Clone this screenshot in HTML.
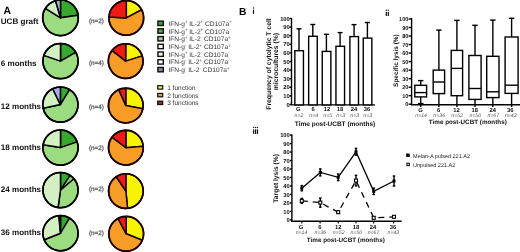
<!DOCTYPE html>
<html><head><meta charset="utf-8"><style>
html,body{margin:0;padding:0;background:#fff;}
body{width:520px;height:252px;overflow:hidden;}
svg{display:block;font-family:"Liberation Sans", sans-serif;text-rendering:geometricPrecision;filter:blur(0.25px);}
</style></head><body>
<svg width="520" height="252" viewBox="0 0 520 252">
<rect width="520" height="252" fill="#fff"/>
<path d="M60.50,17.80 L60.50,0.00 A17.8,17.8 0 0 1 78.13,15.32 Z" fill="#36a82e" stroke="#000" stroke-width="1.5" stroke-linejoin="round"/><path d="M60.50,17.80 L78.13,15.32 A17.8,17.8 0 1 1 45.40,8.37 Z" fill="#9bdc80" stroke="#000" stroke-width="1.5" stroke-linejoin="round"/><path d="M60.50,17.80 L45.40,8.37 A17.8,17.8 0 0 1 55.59,0.69 Z" fill="#d3f0c2" stroke="#000" stroke-width="1.5" stroke-linejoin="round"/><path d="M60.50,17.80 L55.59,0.69 A17.8,17.8 0 0 1 60.50,0.00 Z" fill="#a2b8d4" stroke="#000" stroke-width="1.5" stroke-linejoin="round"/><circle cx="60.5" cy="17.8" r="17.8" fill="none" stroke="#000" stroke-width="1.7"/><path d="M60.50,61.10 L60.50,43.50 A17.6,17.6 0 0 1 75.74,52.30 Z" fill="#36a82e" stroke="#000" stroke-width="1.5" stroke-linejoin="round"/><path d="M60.50,61.10 L75.74,52.30 A17.6,17.6 0 1 1 43.86,55.37 Z" fill="#9bdc80" stroke="#000" stroke-width="1.5" stroke-linejoin="round"/><path d="M60.50,61.10 L43.86,55.37 A17.6,17.6 0 0 1 60.50,43.50 Z" fill="#d3f0c2" stroke="#000" stroke-width="1.5" stroke-linejoin="round"/><circle cx="60.5" cy="61.1" r="17.6" fill="none" stroke="#000" stroke-width="1.7"/><path d="M60.40,104.60 L60.40,87.00 A17.6,17.6 0 0 1 69.60,89.59 Z" fill="#36a82e" stroke="#000" stroke-width="1.5" stroke-linejoin="round"/><path d="M60.40,104.60 L69.60,89.59 A17.6,17.6 0 1 1 43.18,108.26 Z" fill="#9bdc80" stroke="#000" stroke-width="1.5" stroke-linejoin="round"/><path d="M60.40,104.60 L43.18,108.26 A17.6,17.6 0 0 1 52.68,88.78 Z" fill="#d3f0c2" stroke="#000" stroke-width="1.5" stroke-linejoin="round"/><path d="M60.40,104.60 L52.68,88.78 A17.6,17.6 0 0 1 60.40,87.00 Z" fill="#a4ade6" stroke="#000" stroke-width="1.5" stroke-linejoin="round"/><circle cx="60.4" cy="104.6" r="17.6" fill="none" stroke="#000" stroke-width="1.7"/><path d="M60.50,147.60 L60.50,130.00 A17.6,17.6 0 0 1 77.14,141.87 Z" fill="#36a82e" stroke="#000" stroke-width="1.5" stroke-linejoin="round"/><path d="M60.50,147.60 L77.14,141.87 A17.6,17.6 0 1 1 43.12,144.85 Z" fill="#9bdc80" stroke="#000" stroke-width="1.5" stroke-linejoin="round"/><path d="M60.50,147.60 L43.12,144.85 A17.6,17.6 0 0 1 60.50,130.00 Z" fill="#d3f0c2" stroke="#000" stroke-width="1.5" stroke-linejoin="round"/><circle cx="60.5" cy="147.6" r="17.6" fill="none" stroke="#000" stroke-width="1.7"/><path d="M60.50,190.10 L60.50,172.50 A17.6,17.6 0 0 1 70.09,175.34 Z" fill="#36a82e" stroke="#000" stroke-width="1.5" stroke-linejoin="round"/><path d="M60.50,190.10 L70.09,175.34 A17.6,17.6 0 0 1 74.18,179.02 Z" fill="#8fd07c" stroke="#000" stroke-width="1.5" stroke-linejoin="round"/><path d="M60.50,190.10 L73.98,178.79 A17.6,17.6 0 0 1 58.05,207.53 Z" fill="#9bdc80" stroke="#000" stroke-width="1.5" stroke-linejoin="round"/><path d="M60.50,190.10 L58.05,207.53 A17.6,17.6 0 0 1 60.50,172.50 Z" fill="#d3f0c2" stroke="#000" stroke-width="1.5" stroke-linejoin="round"/><circle cx="60.5" cy="190.1" r="17.6" fill="none" stroke="#000" stroke-width="1.7"/><path d="M60.50,233.20 L60.50,215.60 A17.6,17.6 0 0 1 69.56,218.11 Z" fill="#36a82e" stroke="#000" stroke-width="1.5" stroke-linejoin="round"/><path d="M60.50,233.20 L69.56,218.11 A17.6,17.6 0 1 1 44.18,239.79 Z" fill="#9bdc80" stroke="#000" stroke-width="1.5" stroke-linejoin="round"/><path d="M60.50,233.20 L44.18,239.79 A17.6,17.6 0 0 1 58.66,215.70 Z" fill="#d3f0c2" stroke="#000" stroke-width="1.5" stroke-linejoin="round"/><path d="M60.50,233.20 L59.27,215.64 A17.6,17.6 0 0 1 60.50,215.60 Z" fill="#222" stroke="#000" stroke-width="1.5" stroke-linejoin="round"/><circle cx="60.5" cy="233.2" r="17.6" fill="none" stroke="#000" stroke-width="1.7"/><path d="M126.30,17.90 L126.30,0.55 A17.35,17.35 0 0 1 141.62,9.75 Z" fill="#f7f400" stroke="#1a0000" stroke-width="1.5" stroke-linejoin="round"/><path d="M126.30,17.90 L141.62,9.75 A17.35,17.35 0 1 1 108.97,16.99 Z" fill="#f89c28" stroke="#1a0000" stroke-width="1.5" stroke-linejoin="round"/><path d="M126.30,17.90 L108.97,16.99 A17.35,17.35 0 0 1 126.30,0.55 Z" fill="#f01a14" stroke="#1a0000" stroke-width="1.5" stroke-linejoin="round"/><circle cx="126.3" cy="17.9" r="17.35" fill="none" stroke="#1a0000" stroke-width="1.7"/><path d="M125.70,61.10 L125.70,43.75 A17.35,17.35 0 0 1 142.25,55.88 Z" fill="#f7f400" stroke="#1a0000" stroke-width="1.5" stroke-linejoin="round"/><path d="M125.70,61.10 L142.25,55.88 A17.35,17.35 0 1 1 112.03,50.42 Z" fill="#f89c28" stroke="#1a0000" stroke-width="1.5" stroke-linejoin="round"/><path d="M125.70,61.10 L112.03,50.42 A17.35,17.35 0 0 1 125.70,43.75 Z" fill="#f01a14" stroke="#1a0000" stroke-width="1.5" stroke-linejoin="round"/><circle cx="125.7" cy="61.1" r="17.35" fill="none" stroke="#1a0000" stroke-width="1.7"/><path d="M125.80,105.50 L125.80,88.15 A17.35,17.35 0 0 1 142.83,108.81 Z" fill="#f7f400" stroke="#1a0000" stroke-width="1.5" stroke-linejoin="round"/><path d="M125.80,105.50 L142.83,108.81 A17.35,17.35 0 1 1 118.74,89.65 Z" fill="#f89c28" stroke="#1a0000" stroke-width="1.5" stroke-linejoin="round"/><path d="M125.80,105.50 L118.74,89.65 A17.35,17.35 0 0 1 125.80,88.15 Z" fill="#f01a14" stroke="#1a0000" stroke-width="1.5" stroke-linejoin="round"/><circle cx="125.8" cy="105.5" r="17.35" fill="none" stroke="#1a0000" stroke-width="1.7"/><path d="M125.90,147.70 L125.90,130.35 A17.35,17.35 0 0 1 143.20,146.34 Z" fill="#f7f400" stroke="#1a0000" stroke-width="1.5" stroke-linejoin="round"/><path d="M125.90,147.70 L143.20,146.34 A17.35,17.35 0 1 1 112.04,137.26 Z" fill="#f89c28" stroke="#1a0000" stroke-width="1.5" stroke-linejoin="round"/><path d="M125.90,147.70 L112.04,137.26 A17.35,17.35 0 0 1 125.90,130.35 Z" fill="#f01a14" stroke="#1a0000" stroke-width="1.5" stroke-linejoin="round"/><circle cx="125.9" cy="147.7" r="17.35" fill="none" stroke="#1a0000" stroke-width="1.7"/><path d="M125.90,191.10 L125.90,173.75 A17.35,17.35 0 0 1 127.56,208.37 Z" fill="#f7f400" stroke="#1a0000" stroke-width="1.5" stroke-linejoin="round"/><path d="M125.90,191.10 L127.56,208.37 A17.35,17.35 0 0 1 116.20,176.72 Z" fill="#f89c28" stroke="#1a0000" stroke-width="1.5" stroke-linejoin="round"/><path d="M125.90,191.10 L116.20,176.72 A17.35,17.35 0 0 1 125.90,173.75 Z" fill="#f01a14" stroke="#1a0000" stroke-width="1.5" stroke-linejoin="round"/><circle cx="125.9" cy="191.1" r="17.35" fill="none" stroke="#1a0000" stroke-width="1.7"/><path d="M126.20,233.80 L126.20,216.45 A17.35,17.35 0 0 1 142.29,240.30 Z" fill="#f7f400" stroke="#1a0000" stroke-width="1.5" stroke-linejoin="round"/><path d="M126.20,233.80 L142.29,240.30 A17.35,17.35 0 1 1 118.05,218.48 Z" fill="#f89c28" stroke="#1a0000" stroke-width="1.5" stroke-linejoin="round"/><path d="M126.20,233.80 L118.05,218.48 A17.35,17.35 0 0 1 126.20,216.45 Z" fill="#f01a14" stroke="#1a0000" stroke-width="1.5" stroke-linejoin="round"/><circle cx="126.2" cy="233.8" r="17.35" fill="none" stroke="#1a0000" stroke-width="1.7"/><text x="3.6" y="14.2" font-size="10.4" font-weight="bold" text-anchor="start" fill="#000"  >A</text><text x="0.8" y="24.0" font-size="8.05" font-weight="bold" text-anchor="start" fill="#111"  >UCB graft</text><text x="0.8" y="66.30000000000001" font-size="8.05" font-weight="bold" text-anchor="start" fill="#111"  >6 months</text><text x="0.8" y="109.30000000000001" font-size="8.05" font-weight="bold" text-anchor="start" fill="#111"  >12 months</text><text x="0.8" y="150.1" font-size="8.05" font-weight="bold" text-anchor="start" fill="#111"  >18 months</text><text x="0.8" y="191.8" font-size="8.05" font-weight="bold" text-anchor="start" fill="#111"  >24 months</text><text x="0.8" y="235.3" font-size="8.05" font-weight="bold" text-anchor="start" fill="#111"  >36 months</text><text x="89" y="22.5" font-size="6.3" font-weight="normal" text-anchor="start" fill="#555"  stroke="#555" stroke-width="0.25">(n=2)</text><text x="89" y="64.5" font-size="6.3" font-weight="normal" text-anchor="start" fill="#555"  stroke="#555" stroke-width="0.25">(n=4)</text><text x="89" y="108.8" font-size="6.3" font-weight="normal" text-anchor="start" fill="#555"  stroke="#555" stroke-width="0.25">(n=4)</text><text x="89" y="149.8" font-size="6.3" font-weight="normal" text-anchor="start" fill="#555"  stroke="#555" stroke-width="0.25">(n=2)</text><text x="89" y="191.3" font-size="6.3" font-weight="normal" text-anchor="start" fill="#555"  stroke="#555" stroke-width="0.25">(n=2)</text><text x="89" y="235.3" font-size="6.3" font-weight="normal" text-anchor="start" fill="#555"  stroke="#555" stroke-width="0.25">(n=2)</text><rect x="157.9" y="21.10" width="5.4" height="4.4" fill="#36a82e" stroke="#111" stroke-width="1.4"/><text x="168.4" y="25.80" font-size="6.6" fill="#333">IFN-g<tspan font-size="4.3" dy="-2.4">+</tspan><tspan dy="2.4"> </tspan>IL-2<tspan font-size="4.3" dy="-2.4">+</tspan><tspan dy="2.4"> </tspan>CD107a<tspan font-size="4.3" dy="-2.4">+</tspan></text><rect x="157.9" y="28.82" width="5.4" height="4.4" fill="#52b04e" stroke="#111" stroke-width="1.4"/><text x="168.4" y="33.52" font-size="6.6" fill="#333">IFN-g<tspan font-size="4.3" dy="-2.4">+</tspan><tspan dy="2.4"> </tspan>IL-2<tspan font-size="4.3" dy="-2.4">+</tspan><tspan dy="2.4"> </tspan>CD107a<tspan font-size="4.3" dy="-2.4">-</tspan></text><rect x="157.9" y="36.54" width="5.4" height="4.4" fill="#9cd08e" stroke="#111" stroke-width="1.4"/><text x="168.4" y="41.24" font-size="6.6" fill="#333">IFN-g<tspan font-size="4.3" dy="-2.4">+</tspan><tspan dy="2.4"> </tspan>IL-2<tspan font-size="4.3" dy="-2.4">-</tspan><tspan dy="2.4"> </tspan>CD107a<tspan font-size="4.3" dy="-2.4">+</tspan></text><rect x="157.9" y="44.26" width="5.4" height="4.4" fill="#ffffff" stroke="#111" stroke-width="1.4"/><text x="168.4" y="48.96" font-size="6.6" fill="#333">IFN-g<tspan font-size="4.3" dy="-2.4">-</tspan><tspan dy="2.4"> </tspan>IL-2<tspan font-size="4.3" dy="-2.4">+</tspan><tspan dy="2.4"> </tspan>CD107a<tspan font-size="4.3" dy="-2.4">+</tspan></text><rect x="157.9" y="51.98" width="5.4" height="4.4" fill="#eef8d8" stroke="#111" stroke-width="1.4"/><text x="168.4" y="56.68" font-size="6.6" fill="#333">IFN-g<tspan font-size="4.3" dy="-2.4">+</tspan><tspan dy="2.4"> </tspan>IL-2<tspan font-size="4.3" dy="-2.4">-</tspan><tspan dy="2.4"> </tspan>CD107a<tspan font-size="4.3" dy="-2.4">-</tspan></text><rect x="157.9" y="59.70" width="5.4" height="4.4" fill="#ffffff" stroke="#111" stroke-width="1.4"/><text x="168.4" y="64.40" font-size="6.6" fill="#333">IFN-g<tspan font-size="4.3" dy="-2.4">-</tspan><tspan dy="2.4"> </tspan>IL-2<tspan font-size="4.3" dy="-2.4">+</tspan><tspan dy="2.4"> </tspan>CD107a<tspan font-size="4.3" dy="-2.4">-</tspan></text><rect x="157.9" y="67.42" width="5.4" height="4.4" fill="#7c8ca8" stroke="#111" stroke-width="1.4"/><text x="168.4" y="72.12" font-size="6.6" fill="#333">IFN-g<tspan font-size="4.3" dy="-2.4">-</tspan><tspan dy="2.4"> </tspan>IL-2<tspan font-size="4.3" dy="-2.4">-</tspan><tspan dy="2.4"> </tspan>CD107a<tspan font-size="4.3" dy="-2.4">+</tspan></text><rect x="157.7" y="85.70" width="5.0" height="3.4" fill="#eeee50" stroke="#111" stroke-width="1.2"/><text x="167.2" y="89.8" font-size="6.5" font-weight="normal" text-anchor="start" fill="#333"  >1 function</text><rect x="157.7" y="93.42" width="5.0" height="3.4" fill="#dda040" stroke="#111" stroke-width="1.2"/><text x="167.2" y="97.52" font-size="6.5" font-weight="normal" text-anchor="start" fill="#333"  >2 functions</text><rect x="157.7" y="101.14" width="5.0" height="3.4" fill="#b02020" stroke="#111" stroke-width="1.2"/><text x="167.2" y="105.24" font-size="6.5" font-weight="normal" text-anchor="start" fill="#333"  >3 functions</text><text x="239" y="14.8" font-size="10.2" font-weight="bold" text-anchor="start" fill="#000"  >B</text><rect x="252.90" y="9.6" width="1.2" height="4.20" fill="#111"/><rect x="252.90" y="7.40" width="1.2" height="1.2" fill="#111"/><rect x="385.70" y="11.8" width="1.2" height="4.20" fill="#111"/><rect x="385.70" y="9.60" width="1.2" height="1.2" fill="#111"/><rect x="387.70" y="11.8" width="1.2" height="4.20" fill="#111"/><rect x="387.70" y="9.60" width="1.2" height="1.2" fill="#111"/><rect x="253.10" y="129.4" width="1.2" height="4.50" fill="#111"/><rect x="253.10" y="126.90" width="1.2" height="1.2" fill="#111"/><rect x="255.00" y="129.4" width="1.2" height="4.50" fill="#111"/><rect x="255.00" y="126.90" width="1.2" height="1.2" fill="#111"/><rect x="256.90" y="129.4" width="1.2" height="4.50" fill="#111"/><rect x="256.90" y="126.90" width="1.2" height="1.2" fill="#111"/><line x1="291.5" y1="18" x2="291.5" y2="105" stroke="#000" stroke-width="1.4" fill="none"/><line x1="289.5" y1="104.50" x2="291.5" y2="104.50" stroke="#000" stroke-width="1.4" fill="none"/><text x="289.8" y="106.6" font-size="5.8" font-weight="bold" text-anchor="end" fill="#111"  >0</text><line x1="289.5" y1="95.90" x2="291.5" y2="95.90" stroke="#000" stroke-width="1.4" fill="none"/><text x="289.8" y="98.0" font-size="5.8" font-weight="bold" text-anchor="end" fill="#111"  >10</text><line x1="289.5" y1="87.30" x2="291.5" y2="87.30" stroke="#000" stroke-width="1.4" fill="none"/><text x="289.8" y="89.39999999999999" font-size="5.8" font-weight="bold" text-anchor="end" fill="#111"  >20</text><line x1="289.5" y1="78.70" x2="291.5" y2="78.70" stroke="#000" stroke-width="1.4" fill="none"/><text x="289.8" y="80.8" font-size="5.8" font-weight="bold" text-anchor="end" fill="#111"  >30</text><line x1="289.5" y1="70.10" x2="291.5" y2="70.10" stroke="#000" stroke-width="1.4" fill="none"/><text x="289.8" y="72.19999999999999" font-size="5.8" font-weight="bold" text-anchor="end" fill="#111"  >40</text><line x1="289.5" y1="61.50" x2="291.5" y2="61.50" stroke="#000" stroke-width="1.4" fill="none"/><text x="289.8" y="63.6" font-size="5.8" font-weight="bold" text-anchor="end" fill="#111"  >50</text><line x1="289.5" y1="52.90" x2="291.5" y2="52.90" stroke="#000" stroke-width="1.4" fill="none"/><text x="289.8" y="55.0" font-size="5.8" font-weight="bold" text-anchor="end" fill="#111"  >60</text><line x1="289.5" y1="44.30" x2="291.5" y2="44.30" stroke="#000" stroke-width="1.4" fill="none"/><text x="289.8" y="46.400000000000006" font-size="5.8" font-weight="bold" text-anchor="end" fill="#111"  >70</text><line x1="289.5" y1="35.70" x2="291.5" y2="35.70" stroke="#000" stroke-width="1.4" fill="none"/><text x="289.8" y="37.800000000000004" font-size="5.8" font-weight="bold" text-anchor="end" fill="#111"  >80</text><line x1="289.5" y1="27.10" x2="291.5" y2="27.10" stroke="#000" stroke-width="1.4" fill="none"/><text x="289.8" y="29.199999999999996" font-size="5.8" font-weight="bold" text-anchor="end" fill="#111"  >90</text><line x1="289.5" y1="18.50" x2="291.5" y2="18.50" stroke="#000" stroke-width="1.4" fill="none"/><text x="289.8" y="20.6" font-size="5.8" font-weight="bold" text-anchor="end" fill="#111"  >100</text><line x1="290.8" y1="104.9" x2="375" y2="104.9" stroke="#000" stroke-width="1.4" fill="none"/><line x1="299.00" y1="28.8" x2="299.00" y2="50.7" stroke="#000" stroke-width="1.4" fill="none"/><line x1="296.50" y1="28.8" x2="301.50" y2="28.8" stroke="#000" stroke-width="1.4" fill="none"/><rect x="294.84999999999997" y="50.7" width="8.600000000000001" height="54.2" fill="#fff" stroke="#000" stroke-width="1.4" fill="none"/><line x1="312.80" y1="24.5" x2="312.80" y2="36.3" stroke="#000" stroke-width="1.4" fill="none"/><line x1="310.30" y1="24.5" x2="315.30" y2="24.5" stroke="#000" stroke-width="1.4" fill="none"/><rect x="308.65" y="36.3" width="8.600000000000001" height="68.60000000000001" fill="#fff" stroke="#000" stroke-width="1.4" fill="none"/><line x1="326.40" y1="34.3" x2="326.40" y2="51.4" stroke="#000" stroke-width="1.4" fill="none"/><line x1="323.90" y1="34.3" x2="328.90" y2="34.3" stroke="#000" stroke-width="1.4" fill="none"/><rect x="322.25" y="51.4" width="8.600000000000001" height="53.50000000000001" fill="#fff" stroke="#000" stroke-width="1.4" fill="none"/><line x1="340.10" y1="32.6" x2="340.10" y2="46.3" stroke="#000" stroke-width="1.4" fill="none"/><line x1="337.60" y1="32.6" x2="342.60" y2="32.6" stroke="#000" stroke-width="1.4" fill="none"/><rect x="335.95" y="46.3" width="8.600000000000001" height="58.60000000000001" fill="#fff" stroke="#000" stroke-width="1.4" fill="none"/><line x1="354.05" y1="24.6" x2="354.05" y2="36.6" stroke="#000" stroke-width="1.4" fill="none"/><line x1="351.55" y1="24.6" x2="356.55" y2="24.6" stroke="#000" stroke-width="1.4" fill="none"/><rect x="349.9" y="36.6" width="8.600000000000001" height="68.30000000000001" fill="#fff" stroke="#000" stroke-width="1.4" fill="none"/><line x1="367.40" y1="22.5" x2="367.40" y2="38.1" stroke="#000" stroke-width="1.4" fill="none"/><line x1="364.90" y1="22.5" x2="369.90" y2="22.5" stroke="#000" stroke-width="1.4" fill="none"/><rect x="363.25" y="38.1" width="8.600000000000001" height="66.80000000000001" fill="#fff" stroke="#000" stroke-width="1.4" fill="none"/><text x="298.30" y="111.3" font-size="5.8" font-weight="bold" text-anchor="middle" fill="#111"  >G</text><text x="299.00" y="117.1" font-size="5.2" font-weight="normal" text-anchor="middle" fill="#555" font-style="italic" >n=2</text><text x="313.00" y="111.3" font-size="5.8" font-weight="bold" text-anchor="middle" fill="#111"  >6</text><text x="313.70" y="117.1" font-size="5.2" font-weight="normal" text-anchor="middle" fill="#555" font-style="italic" >n=4</text><text x="327.00" y="111.3" font-size="5.8" font-weight="bold" text-anchor="middle" fill="#111"  >12</text><text x="327.70" y="117.1" font-size="5.2" font-weight="normal" text-anchor="middle" fill="#555" font-style="italic" >n=5</text><text x="340.00" y="111.3" font-size="5.8" font-weight="bold" text-anchor="middle" fill="#111"  >18</text><text x="340.70" y="117.1" font-size="5.2" font-weight="normal" text-anchor="middle" fill="#555" font-style="italic" >n=3</text><text x="354.00" y="111.3" font-size="5.8" font-weight="bold" text-anchor="middle" fill="#111"  >24</text><text x="354.70" y="117.1" font-size="5.2" font-weight="normal" text-anchor="middle" fill="#555" font-style="italic" >n=3</text><text x="367.00" y="111.3" font-size="5.8" font-weight="bold" text-anchor="middle" fill="#111"  >36</text><text x="367.70" y="117.1" font-size="5.2" font-weight="normal" text-anchor="middle" fill="#555" font-style="italic" >n=3</text><text x="335" y="125.6" font-size="6.5" font-weight="bold" text-anchor="middle" fill="#111"  >Time post-UCBT (months)</text><text transform="translate(271,64) rotate(-90)" font-size="6.8" font-weight="bold" text-anchor="middle" fill="#111">Frequency of cytolytic T cell</text><text transform="translate(278,61.6) rotate(-90)" font-size="6.8" font-weight="bold" text-anchor="middle" fill="#111">microcultures (%)</text><line x1="411.6" y1="18" x2="411.6" y2="105" stroke="#000" stroke-width="1.4" fill="none"/><line x1="408.6" y1="104.20" x2="411.6" y2="104.20" stroke="#000" stroke-width="1.4" fill="none"/><text x="408.4" y="106.3" font-size="5.6" font-weight="bold" text-anchor="end" fill="#111"  >0</text><line x1="408.6" y1="95.68" x2="411.6" y2="95.68" stroke="#000" stroke-width="1.4" fill="none"/><text x="408.4" y="97.78" font-size="5.6" font-weight="bold" text-anchor="end" fill="#111"  >10</text><line x1="408.6" y1="87.16" x2="411.6" y2="87.16" stroke="#000" stroke-width="1.4" fill="none"/><text x="408.4" y="89.25999999999999" font-size="5.6" font-weight="bold" text-anchor="end" fill="#111"  >20</text><line x1="408.6" y1="78.64" x2="411.6" y2="78.64" stroke="#000" stroke-width="1.4" fill="none"/><text x="408.4" y="80.74" font-size="5.6" font-weight="bold" text-anchor="end" fill="#111"  >30</text><line x1="408.6" y1="70.12" x2="411.6" y2="70.12" stroke="#000" stroke-width="1.4" fill="none"/><text x="408.4" y="72.22" font-size="5.6" font-weight="bold" text-anchor="end" fill="#111"  >40</text><line x1="408.6" y1="61.60" x2="411.6" y2="61.60" stroke="#000" stroke-width="1.4" fill="none"/><text x="408.4" y="63.7" font-size="5.6" font-weight="bold" text-anchor="end" fill="#111"  >50</text><line x1="408.6" y1="53.08" x2="411.6" y2="53.08" stroke="#000" stroke-width="1.4" fill="none"/><text x="408.4" y="55.18000000000001" font-size="5.6" font-weight="bold" text-anchor="end" fill="#111"  >60</text><line x1="408.6" y1="44.56" x2="411.6" y2="44.56" stroke="#000" stroke-width="1.4" fill="none"/><text x="408.4" y="46.660000000000004" font-size="5.6" font-weight="bold" text-anchor="end" fill="#111"  >70</text><line x1="408.6" y1="36.04" x2="411.6" y2="36.04" stroke="#000" stroke-width="1.4" fill="none"/><text x="408.4" y="38.14000000000001" font-size="5.6" font-weight="bold" text-anchor="end" fill="#111"  >80</text><line x1="408.6" y1="27.52" x2="411.6" y2="27.52" stroke="#000" stroke-width="1.4" fill="none"/><text x="408.4" y="29.62000000000001" font-size="5.6" font-weight="bold" text-anchor="end" fill="#111"  >90</text><line x1="408.6" y1="19.00" x2="411.6" y2="19.00" stroke="#000" stroke-width="1.4" fill="none"/><text x="408.4" y="21.1" font-size="5.6" font-weight="bold" text-anchor="end" fill="#111"  >100</text><line x1="410.9" y1="104.8" x2="520" y2="104.8" stroke="#000" stroke-width="1.4" fill="none"/><line x1="420.70" y1="80.6" x2="420.70" y2="104" stroke="#000" stroke-width="1.4" fill="none"/><line x1="418.00" y1="80.6" x2="423.40" y2="80.6" stroke="#000" stroke-width="1.4" fill="none"/><line x1="420.70" y1="104" x2="420.70" y2="107" stroke="#000" stroke-width="1.4" fill="none"/><rect x="414.79999999999995" y="85.3" width="11.800000000000022" height="11.600000000000009" fill="#fff" stroke="#000" stroke-width="1.4" fill="none"/><line x1="414.79999999999995" y1="92.6" x2="426.6" y2="92.6" stroke="#000" stroke-width="1.4" fill="none"/><line x1="438.90" y1="30.1" x2="438.90" y2="104" stroke="#000" stroke-width="1.4" fill="none"/><line x1="436.20" y1="30.1" x2="441.60" y2="30.1" stroke="#000" stroke-width="1.4" fill="none"/><line x1="438.90" y1="104" x2="438.90" y2="107" stroke="#000" stroke-width="1.4" fill="none"/><rect x="433.2" y="70.1" width="11.399999999999988" height="23.5" fill="#fff" stroke="#000" stroke-width="1.4" fill="none"/><line x1="433.2" y1="82.0" x2="444.6" y2="82.0" stroke="#000" stroke-width="1.4" fill="none"/><line x1="456.90" y1="20.4" x2="456.90" y2="104" stroke="#000" stroke-width="1.4" fill="none"/><line x1="454.20" y1="20.4" x2="459.60" y2="20.4" stroke="#000" stroke-width="1.4" fill="none"/><line x1="456.90" y1="104" x2="456.90" y2="107" stroke="#000" stroke-width="1.4" fill="none"/><rect x="451.2" y="50.4" width="11.399999999999988" height="45.300000000000004" fill="#fff" stroke="#000" stroke-width="1.4" fill="none"/><line x1="451.2" y1="68.4" x2="462.6" y2="68.4" stroke="#000" stroke-width="1.4" fill="none"/><line x1="475.00" y1="25.3" x2="475.00" y2="104" stroke="#000" stroke-width="1.4" fill="none"/><line x1="472.30" y1="25.3" x2="477.70" y2="25.3" stroke="#000" stroke-width="1.4" fill="none"/><line x1="475.00" y1="104" x2="475.00" y2="107" stroke="#000" stroke-width="1.4" fill="none"/><rect x="468.9" y="55.5" width="12.2" height="43.900000000000006" fill="#fff" stroke="#000" stroke-width="1.4" fill="none"/><line x1="468.9" y1="88.5" x2="481.1" y2="88.5" stroke="#000" stroke-width="1.4" fill="none"/><line x1="492.85" y1="20.1" x2="492.85" y2="104" stroke="#000" stroke-width="1.4" fill="none"/><line x1="490.15" y1="20.1" x2="495.55" y2="20.1" stroke="#000" stroke-width="1.4" fill="none"/><line x1="492.85" y1="104" x2="492.85" y2="107" stroke="#000" stroke-width="1.4" fill="none"/><rect x="486.7" y="56.3" width="12.299999999999965" height="41.3" fill="#fff" stroke="#000" stroke-width="1.4" fill="none"/><line x1="486.7" y1="91.8" x2="499.0" y2="91.8" stroke="#000" stroke-width="1.4" fill="none"/><line x1="511.60" y1="18.3" x2="511.60" y2="104" stroke="#000" stroke-width="1.4" fill="none"/><line x1="508.90" y1="18.3" x2="514.30" y2="18.3" stroke="#000" stroke-width="1.4" fill="none"/><line x1="511.60" y1="104" x2="511.60" y2="107" stroke="#000" stroke-width="1.4" fill="none"/><rect x="505.09999999999997" y="37.0" width="13.00000000000001" height="56.400000000000006" fill="#fff" stroke="#000" stroke-width="1.4" fill="none"/><line x1="505.09999999999997" y1="85.2" x2="518.1" y2="85.2" stroke="#000" stroke-width="1.4" fill="none"/><line x1="417.9" y1="103.6" x2="423.5" y2="103.6" stroke="#000" stroke-width="1.4" fill="none"/><text x="420.60" y="111.6" font-size="5.8" font-weight="bold" text-anchor="middle" fill="#111"  >G</text><text x="421.10" y="117.1" font-size="5.2" font-weight="normal" text-anchor="middle" fill="#555" font-style="italic" >n=14</text><text x="438.70" y="111.6" font-size="5.8" font-weight="bold" text-anchor="middle" fill="#111"  >6</text><text x="439.20" y="117.1" font-size="5.2" font-weight="normal" text-anchor="middle" fill="#555" font-style="italic" >n=36</text><text x="456.60" y="111.6" font-size="5.8" font-weight="bold" text-anchor="middle" fill="#111"  >12</text><text x="457.10" y="117.1" font-size="5.2" font-weight="normal" text-anchor="middle" fill="#555" font-style="italic" >n=52</text><text x="474.80" y="111.6" font-size="5.8" font-weight="bold" text-anchor="middle" fill="#111"  >18</text><text x="475.30" y="117.1" font-size="5.2" font-weight="normal" text-anchor="middle" fill="#555" font-style="italic" >n=50</text><text x="492.80" y="111.6" font-size="5.8" font-weight="bold" text-anchor="middle" fill="#111"  >24</text><text x="493.30" y="117.1" font-size="5.2" font-weight="normal" text-anchor="middle" fill="#555" font-style="italic" >n=67</text><text x="510.30" y="111.6" font-size="5.8" font-weight="bold" text-anchor="middle" fill="#111"  >36</text><text x="510.80" y="117.1" font-size="5.2" font-weight="normal" text-anchor="middle" fill="#555" font-style="italic" >n=43</text><text x="467.8" y="124" font-size="6.3" font-weight="bold" text-anchor="middle" fill="#111"  >Time post-UCBT (months)</text><text transform="translate(398,60.6) rotate(-90)" font-size="6.45" font-weight="bold" text-anchor="middle" fill="#111">Specific lysis (%)</text><line x1="291.9" y1="134.5" x2="291.9" y2="222" stroke="#000" stroke-width="1.4" fill="none"/><line x1="289.9" y1="219.90" x2="291.9" y2="219.90" stroke="#000" stroke-width="1.4" fill="none"/><text x="289.8" y="222.0" font-size="5.8" font-weight="bold" text-anchor="end" fill="#111"  >0</text><line x1="289.9" y1="211.42" x2="291.9" y2="211.42" stroke="#000" stroke-width="1.4" fill="none"/><text x="289.8" y="213.52" font-size="5.8" font-weight="bold" text-anchor="end" fill="#111"  >10</text><line x1="289.9" y1="202.94" x2="291.9" y2="202.94" stroke="#000" stroke-width="1.4" fill="none"/><text x="289.8" y="205.04" font-size="5.8" font-weight="bold" text-anchor="end" fill="#111"  >20</text><line x1="289.9" y1="194.46" x2="291.9" y2="194.46" stroke="#000" stroke-width="1.4" fill="none"/><text x="289.8" y="196.56" font-size="5.8" font-weight="bold" text-anchor="end" fill="#111"  >30</text><line x1="289.9" y1="185.98" x2="291.9" y2="185.98" stroke="#000" stroke-width="1.4" fill="none"/><text x="289.8" y="188.08" font-size="5.8" font-weight="bold" text-anchor="end" fill="#111"  >40</text><line x1="289.9" y1="177.50" x2="291.9" y2="177.50" stroke="#000" stroke-width="1.4" fill="none"/><text x="289.8" y="179.6" font-size="5.8" font-weight="bold" text-anchor="end" fill="#111"  >50</text><line x1="289.9" y1="169.02" x2="291.9" y2="169.02" stroke="#000" stroke-width="1.4" fill="none"/><text x="289.8" y="171.12" font-size="5.8" font-weight="bold" text-anchor="end" fill="#111"  >60</text><line x1="289.9" y1="160.54" x2="291.9" y2="160.54" stroke="#000" stroke-width="1.4" fill="none"/><text x="289.8" y="162.64000000000001" font-size="5.8" font-weight="bold" text-anchor="end" fill="#111"  >70</text><line x1="289.9" y1="152.06" x2="291.9" y2="152.06" stroke="#000" stroke-width="1.4" fill="none"/><text x="289.8" y="154.16" font-size="5.8" font-weight="bold" text-anchor="end" fill="#111"  >80</text><line x1="289.9" y1="143.58" x2="291.9" y2="143.58" stroke="#000" stroke-width="1.4" fill="none"/><text x="289.8" y="145.68" font-size="5.8" font-weight="bold" text-anchor="end" fill="#111"  >90</text><line x1="289.9" y1="135.10" x2="291.9" y2="135.10" stroke="#000" stroke-width="1.4" fill="none"/><text x="289.8" y="137.20000000000002" font-size="5.8" font-weight="bold" text-anchor="end" fill="#111"  >100</text><line x1="291.2" y1="221.3" x2="401.7" y2="221.3" stroke="#000" stroke-width="1.4" fill="none"/><line x1="301.8" y1="221.3" x2="301.8" y2="223.4" stroke="#000" stroke-width="1.1"/><line x1="320.1" y1="221.3" x2="320.1" y2="223.4" stroke="#000" stroke-width="1.1"/><line x1="338.3" y1="221.3" x2="338.3" y2="223.4" stroke="#000" stroke-width="1.1"/><line x1="356" y1="221.3" x2="356" y2="223.4" stroke="#000" stroke-width="1.1"/><line x1="373.7" y1="221.3" x2="373.7" y2="223.4" stroke="#000" stroke-width="1.1"/><line x1="393.6" y1="221.3" x2="393.6" y2="223.4" stroke="#000" stroke-width="1.1"/><polyline points="301.8,188.2 320.3,172.4 338.2,177.3 356,151.8 373.7,191.3 394,181" stroke="#000" stroke-width="1.3" fill="none"/><polyline points="301.8,200.9 320.3,202.6 338.2,212.2 356,180.6 373.7,217.8 394,216.8" stroke="#000" stroke-width="1.3" fill="none" stroke-dasharray="6 5"/><line x1="301.8" y1="185.6" x2="301.8" y2="190.79999999999998" stroke="#000" stroke-width="1.4" fill="none"/><line x1="300.5" y1="185.6" x2="303.1" y2="185.6" stroke="#000" stroke-width="1.4" fill="none"/><line x1="300.5" y1="190.79999999999998" x2="303.1" y2="190.79999999999998" stroke="#000" stroke-width="1.4" fill="none"/><rect x="300.3" y="186.7" width="3" height="3" fill="#000"/><line x1="320.3" y1="168.9" x2="320.3" y2="175.9" stroke="#000" stroke-width="1.4" fill="none"/><line x1="319.0" y1="168.9" x2="321.6" y2="168.9" stroke="#000" stroke-width="1.4" fill="none"/><line x1="319.0" y1="175.9" x2="321.6" y2="175.9" stroke="#000" stroke-width="1.4" fill="none"/><rect x="318.8" y="170.9" width="3" height="3" fill="#000"/><line x1="338.2" y1="174.0" x2="338.2" y2="180.60000000000002" stroke="#000" stroke-width="1.4" fill="none"/><line x1="336.9" y1="174.0" x2="339.5" y2="174.0" stroke="#000" stroke-width="1.4" fill="none"/><line x1="336.9" y1="180.60000000000002" x2="339.5" y2="180.60000000000002" stroke="#000" stroke-width="1.4" fill="none"/><rect x="336.7" y="175.8" width="3" height="3" fill="#000"/><line x1="356" y1="148.4" x2="356" y2="155.20000000000002" stroke="#000" stroke-width="1.4" fill="none"/><line x1="354.7" y1="148.4" x2="357.3" y2="148.4" stroke="#000" stroke-width="1.4" fill="none"/><line x1="354.7" y1="155.20000000000002" x2="357.3" y2="155.20000000000002" stroke="#000" stroke-width="1.4" fill="none"/><rect x="354.5" y="150.3" width="3" height="3" fill="#000"/><line x1="373.7" y1="188.10000000000002" x2="373.7" y2="194.5" stroke="#000" stroke-width="1.4" fill="none"/><line x1="372.4" y1="188.10000000000002" x2="375.0" y2="188.10000000000002" stroke="#000" stroke-width="1.4" fill="none"/><line x1="372.4" y1="194.5" x2="375.0" y2="194.5" stroke="#000" stroke-width="1.4" fill="none"/><rect x="372.2" y="189.8" width="3" height="3" fill="#000"/><line x1="394" y1="176" x2="394" y2="186" stroke="#000" stroke-width="1.4" fill="none"/><line x1="392.7" y1="176" x2="395.3" y2="176" stroke="#000" stroke-width="1.4" fill="none"/><line x1="392.7" y1="186" x2="395.3" y2="186" stroke="#000" stroke-width="1.4" fill="none"/><rect x="392.5" y="179.5" width="3" height="3" fill="#000"/><line x1="301.8" y1="198.4" x2="301.8" y2="203.4" stroke="#000" stroke-width="1.4" fill="none"/><line x1="300.5" y1="198.4" x2="303.1" y2="198.4" stroke="#000" stroke-width="1.4" fill="none"/><line x1="300.5" y1="203.4" x2="303.1" y2="203.4" stroke="#000" stroke-width="1.4" fill="none"/><rect x="300.3" y="199.4" width="3" height="3" fill="#fff" stroke="#000" stroke-width="1.1"/><line x1="320.3" y1="198.0" x2="320.3" y2="207.2" stroke="#000" stroke-width="1.4" fill="none"/><line x1="319.0" y1="198.0" x2="321.6" y2="198.0" stroke="#000" stroke-width="1.4" fill="none"/><line x1="319.0" y1="207.2" x2="321.6" y2="207.2" stroke="#000" stroke-width="1.4" fill="none"/><rect x="318.8" y="201.1" width="3" height="3" fill="#fff" stroke="#000" stroke-width="1.1"/><line x1="338.2" y1="211.2" x2="338.2" y2="213.2" stroke="#000" stroke-width="1.4" fill="none"/><line x1="336.9" y1="211.2" x2="339.5" y2="211.2" stroke="#000" stroke-width="1.4" fill="none"/><line x1="336.9" y1="213.2" x2="339.5" y2="213.2" stroke="#000" stroke-width="1.4" fill="none"/><rect x="336.7" y="210.7" width="3" height="3" fill="#fff" stroke="#000" stroke-width="1.1"/><line x1="356" y1="175.29999999999998" x2="356" y2="185.9" stroke="#000" stroke-width="1.4" fill="none"/><line x1="354.7" y1="175.29999999999998" x2="357.3" y2="175.29999999999998" stroke="#000" stroke-width="1.4" fill="none"/><line x1="354.7" y1="185.9" x2="357.3" y2="185.9" stroke="#000" stroke-width="1.4" fill="none"/><rect x="354.5" y="179.1" width="3" height="3" fill="#fff" stroke="#000" stroke-width="1.1"/><line x1="373.7" y1="217.3" x2="373.7" y2="218.3" stroke="#000" stroke-width="1.4" fill="none"/><line x1="372.4" y1="217.3" x2="375.0" y2="217.3" stroke="#000" stroke-width="1.4" fill="none"/><line x1="372.4" y1="218.3" x2="375.0" y2="218.3" stroke="#000" stroke-width="1.4" fill="none"/><rect x="372.2" y="216.3" width="3" height="3" fill="#fff" stroke="#000" stroke-width="1.1"/><line x1="394" y1="216.3" x2="394" y2="217.3" stroke="#000" stroke-width="1.4" fill="none"/><line x1="392.7" y1="216.3" x2="395.3" y2="216.3" stroke="#000" stroke-width="1.4" fill="none"/><line x1="392.7" y1="217.3" x2="395.3" y2="217.3" stroke="#000" stroke-width="1.4" fill="none"/><rect x="392.5" y="215.3" width="3" height="3" fill="#fff" stroke="#000" stroke-width="1.1"/><text x="301" y="228.5" font-size="5.8" font-weight="bold" text-anchor="middle" fill="#111"  >G</text><text x="301.5" y="234.4" font-size="5.2" font-weight="normal" text-anchor="middle" fill="#555" font-style="italic" >n=14</text><text x="319.9" y="228.5" font-size="5.8" font-weight="bold" text-anchor="middle" fill="#111"  >6</text><text x="320.4" y="234.4" font-size="5.2" font-weight="normal" text-anchor="middle" fill="#555" font-style="italic" >n=36</text><text x="338.2" y="228.5" font-size="5.8" font-weight="bold" text-anchor="middle" fill="#111"  >12</text><text x="338.7" y="234.4" font-size="5.2" font-weight="normal" text-anchor="middle" fill="#555" font-style="italic" >n=52</text><text x="355.9" y="228.5" font-size="5.8" font-weight="bold" text-anchor="middle" fill="#111"  >18</text><text x="356.4" y="234.4" font-size="5.2" font-weight="normal" text-anchor="middle" fill="#555" font-style="italic" >n=50</text><text x="373" y="228.5" font-size="5.8" font-weight="bold" text-anchor="middle" fill="#111"  >24</text><text x="373.5" y="234.4" font-size="5.2" font-weight="normal" text-anchor="middle" fill="#555" font-style="italic" >n=67</text><text x="392.9" y="228.5" font-size="5.8" font-weight="bold" text-anchor="middle" fill="#111"  >36</text><text x="393.4" y="234.4" font-size="5.2" font-weight="normal" text-anchor="middle" fill="#555" font-style="italic" >n=43</text><text x="345.8" y="241.9" font-size="6.3" font-weight="bold" text-anchor="middle" fill="#111"  >Time post-UCBT (months)</text><text transform="translate(277.8,178.4) rotate(-90)" font-size="6.65" font-weight="bold" text-anchor="middle" fill="#111">Target lysis (%)</text><rect x="406.6" y="153.9" width="2.8" height="2.8" fill="#000" stroke="#000" stroke-width="0.6"/><rect x="406.9" y="163.2" width="2.4" height="2.4" fill="#fff" stroke="#000" stroke-width="1"/><text x="413.1" y="157.8" font-size="5.5" font-weight="normal" text-anchor="start" fill="#222"  >Melan-A pulsed 221.A2</text><text x="413.1" y="166.7" font-size="5.5" font-weight="normal" text-anchor="start" fill="#222"  >Unpulsed 221.A2</text>
</svg>
</body></html>
